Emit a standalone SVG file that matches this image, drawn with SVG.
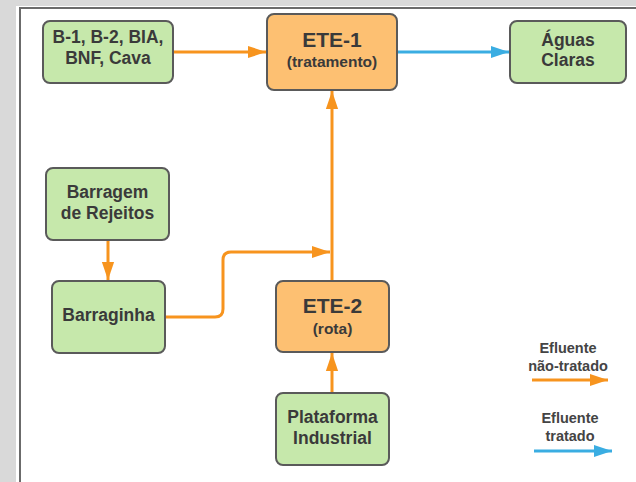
<svg xmlns="http://www.w3.org/2000/svg" width="636" height="482" viewBox="0 0 636 482">
<defs>
<style>
.bg{fill:#d9d9d9}
.panel{fill:#ffffff}
.frame{fill:none;stroke:#6b6b6b;stroke-width:2}
.green{fill:#c6e8ab;stroke:#5a5a5a;stroke-width:2}
.orange{fill:#fdc072;stroke:#5a5a5a;stroke-width:2}
.t{font-family:"Liberation Sans",Arial,sans-serif;font-weight:bold;fill:#3a3a3a;text-anchor:middle}
.n{font-size:17.5px}
.big{font-size:21px}
.sub{font-size:15.5px}
.leg{font-size:14.5px;fill:#444}
.eo{fill:none;stroke:#f7941e;stroke-width:3}
.eb{fill:none;stroke:#3aade2;stroke-width:3}
</style>
<marker id="ao" viewBox="0 0 10 10" refX="10" refY="5" markerWidth="6" markerHeight="6" markerUnits="strokeWidth" orient="auto"><path d="M0,1.6 L10,5 L0,8.4 z" fill="#f7941e"/></marker>
<marker id="ab" viewBox="0 0 10 10" refX="10" refY="5" markerWidth="6" markerHeight="6" markerUnits="strokeWidth" orient="auto"><path d="M0,1.6 L10,5 L0,8.4 z" fill="#3aade2"/></marker>
</defs>
<rect class="bg" x="0" y="0" width="636" height="482"/>
<rect class="panel" x="16" y="6" width="620" height="476"/>
<path class="frame" d="M20,482 V8 H636"/>
<g id="connectors">
<path class="eo" d="M173,52 H266" marker-end="url(#ao)"/>
<path class="eb" d="M397,52 H509" marker-end="url(#ab)"/>
<path class="eo" d="M108,240 V280" marker-end="url(#ao)"/>
<path class="eo" d="M165,317 H215 Q223,317 223,309 V260 Q223,252 231,252 H330" marker-end="url(#ao)"/>
<path class="eo" d="M332,281 V91" marker-end="url(#ao)"/>
<path class="eo" d="M332,393 V353" marker-end="url(#ao)"/>
</g>
<g id="n-b1">
<rect class="green" x="43" y="21" width="130" height="62" rx="7"/>
<text class="t n" x="108" y="43">B-1, B-2, BIA,</text>
<text class="t n" x="108" y="64">BNF, Cava</text>
</g>
<g id="n-ete1">
<rect class="orange" x="267" y="14" width="130" height="76" rx="7"/>
<text class="t big" x="332" y="47">ETE-1</text>
<text class="t sub" x="332" y="67">(tratamento)</text>
</g>
<g id="n-aguas">
<rect class="green" x="510" y="21" width="116" height="62" rx="7"/>
<text class="t n" x="568" y="46">Águas</text>
<text class="t n" x="568" y="66">Claras</text>
</g>
<g id="n-barragem">
<rect class="green" x="46" y="168" width="123" height="72" rx="7"/>
<text class="t n" x="107.5" y="198">Barragem</text>
<text class="t n" x="107.5" y="219">de Rejeitos</text>
</g>
<g id="n-barraginha">
<rect class="green" x="52" y="281" width="113" height="72" rx="7"/>
<text class="t n" x="108.5" y="321">Barraginha</text>
</g>
<g id="n-ete2">
<rect class="orange" x="276" y="281" width="113" height="71" rx="7"/>
<text class="t big" x="332.5" y="313">ETE-2</text>
<text class="t sub" x="332.5" y="334">(rota)</text>
</g>
<g id="n-plataforma">
<rect class="green" x="276" y="393" width="113" height="72" rx="7"/>
<text class="t n" x="332.5" y="423">Plataforma</text>
<text class="t n" x="332.5" y="444">Industrial</text>
</g>
<g id="legend">
<text class="t leg" x="568" y="353">Efluente</text>
<text class="t leg" x="568" y="371">não-tratado</text>
<path class="eo" d="M532,380 H608" marker-end="url(#ao)"/>
<text class="t leg" x="570" y="423">Efluente</text>
<text class="t leg" x="570" y="441">tratado</text>
<path class="eb" d="M534,451 H612" marker-end="url(#ab)"/>
</g>
</svg>
